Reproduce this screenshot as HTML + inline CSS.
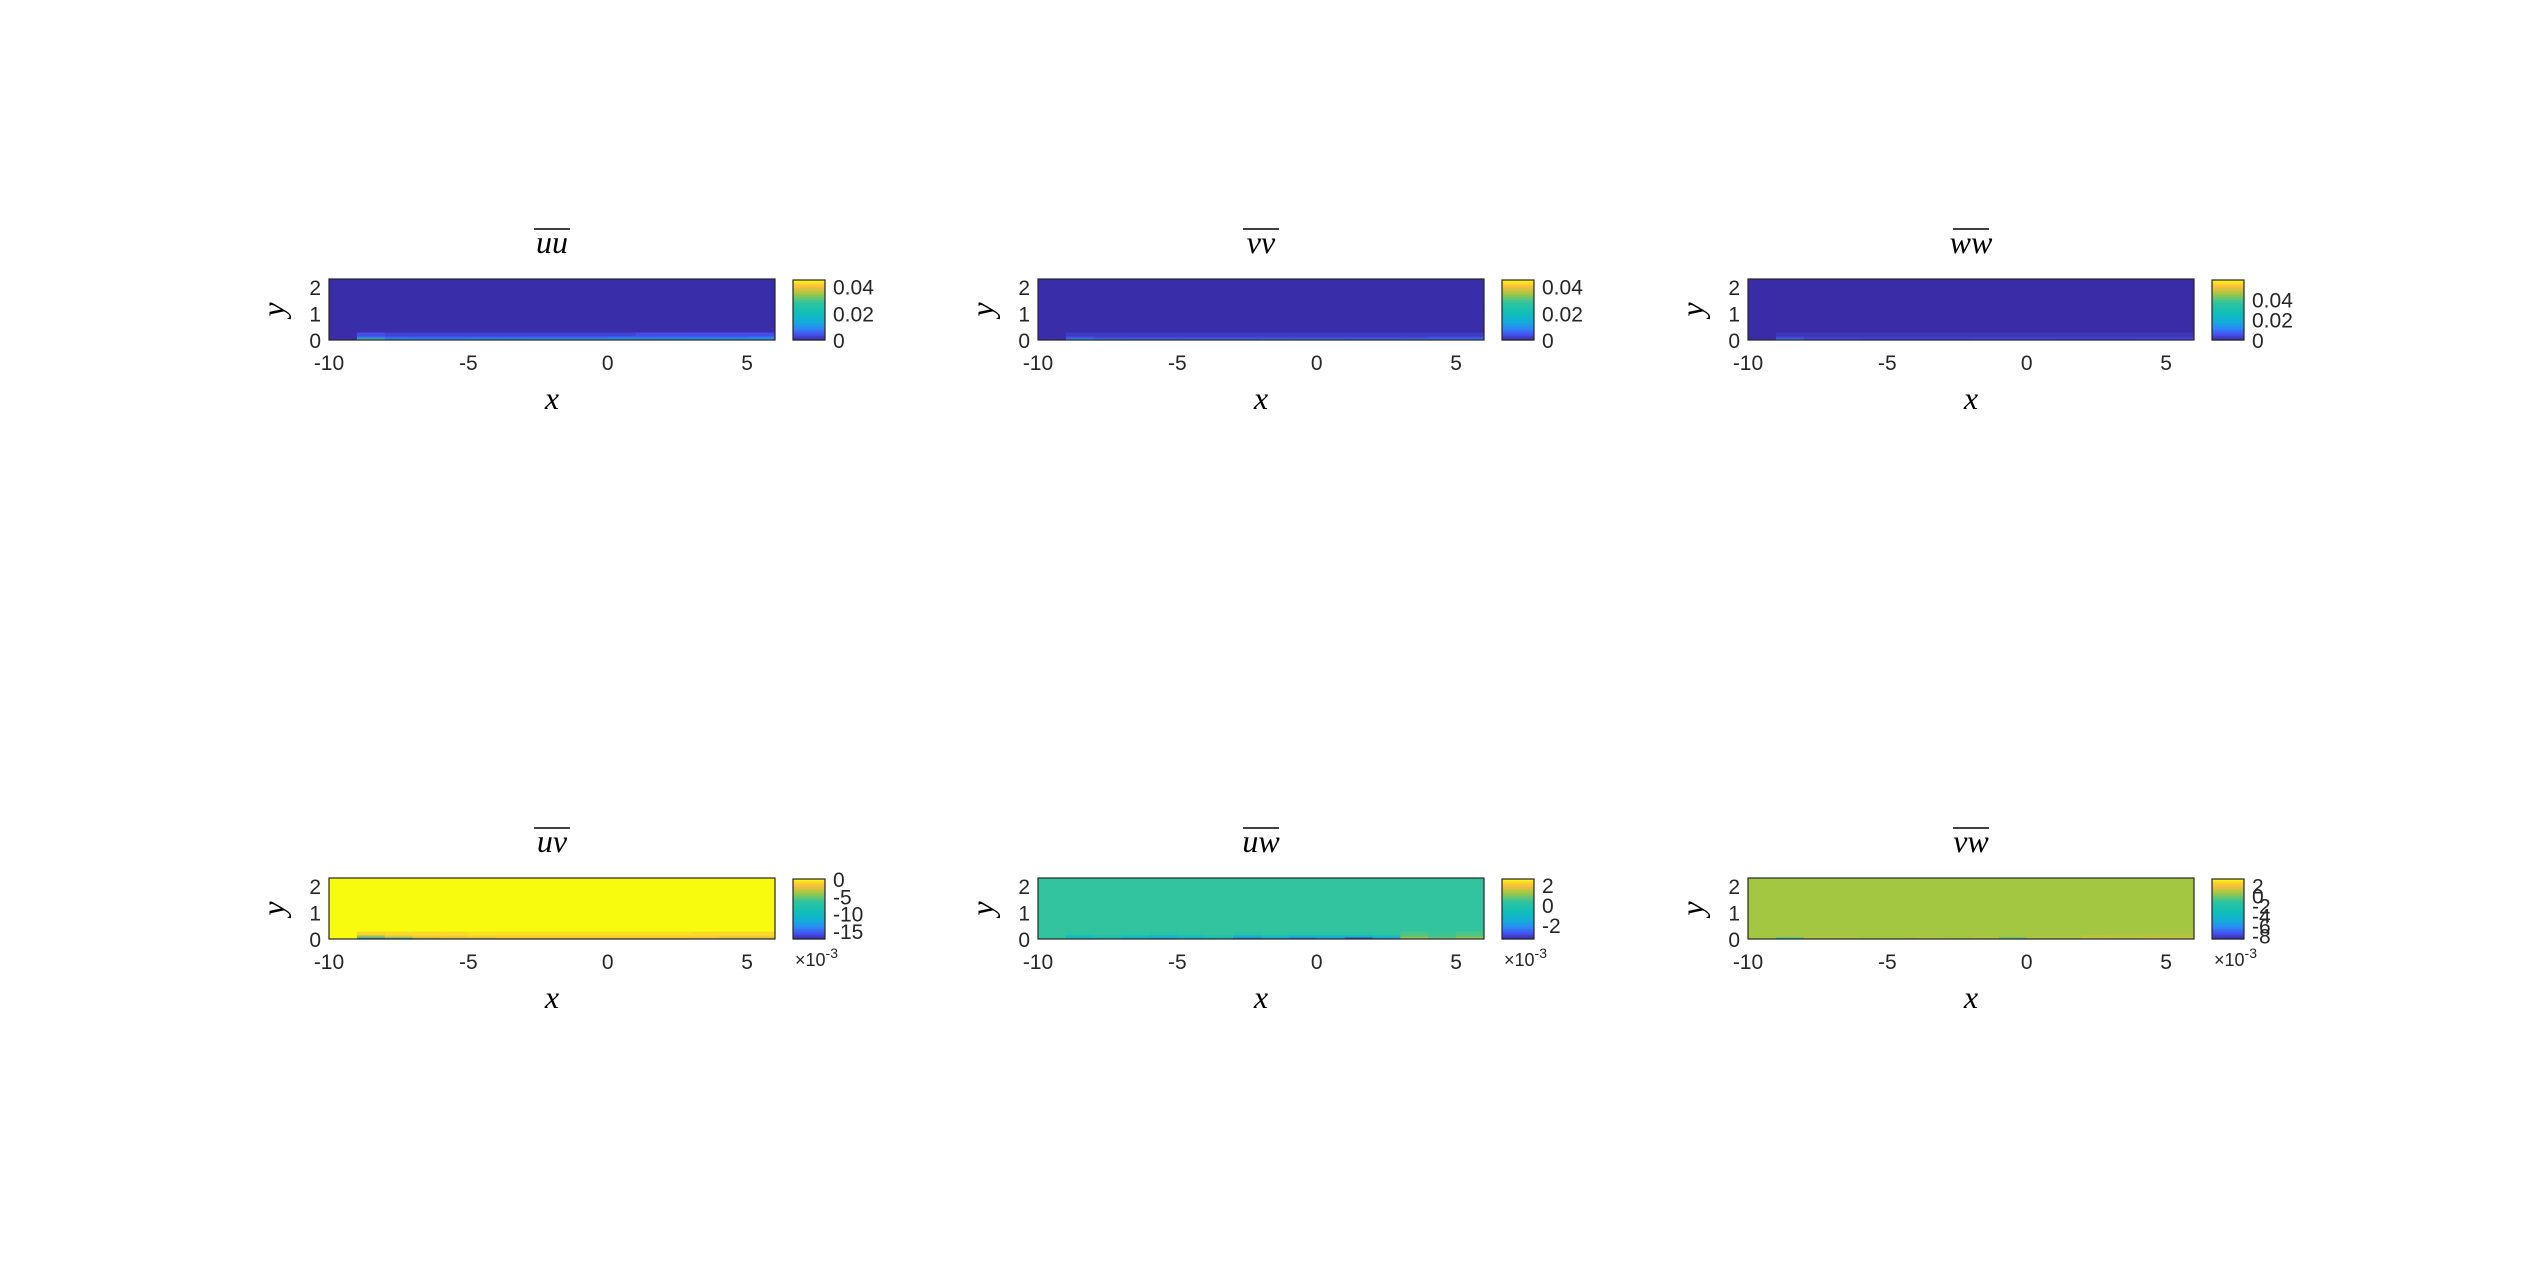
<!DOCTYPE html>
<html><head><meta charset="utf-8"><style>
html,body{margin:0;padding:0;background:#fff}
svg{display:block}
text{font-family:"Liberation Sans",sans-serif;fill:#262626}
.tk{font-size:21px}
.lab{font-family:"Liberation Serif",serif;font-style:italic;font-size:32px;fill:#000}
</style></head><body>
<svg id="fig" width="2526" height="1263" viewBox="0 0 2526 1263" xmlns="http://www.w3.org/2000/svg"></svg>
<script>
// ---- data ----
const titles = ["uu","vv","ww","uv","uw","vw"];
const xBins = [-9,-8,-7,-6,-5,-4,-3,-2,-1,0,1,2,3,4,5,6];
const yBands = [0,0.06,0.14,0.28];
const background = [0.0006,0.0006,0.0006,0,0.0004,0.0007];
const row0 = [
 [0.03,0.012,0.011,0.011,0.012,0.012,0.014,0.014,0.013,0.014,0.012,0.013,0.014,0.015,0.013,0.012],
 [0.012,0.008,0.007,0.007,0.007,0.007,0.007,0.008,0.008,0.008,0.007,0.007,0.008,0.008,0.008,0.008],
 [0.01,0.006,0.006,0.005,0.005,0.005,0.005,0.006,0.006,0.006,0.005,0.005,0.005,0.006,0.006,0.006],
 [-0.013,-0.007,-0.004,-0.003,-0.003,-0.002,-0.002,-0.002,-0.002,-0.002,-0.002,-0.002,-0.002,-0.003,-0.003,-0.002],
 [-0.001,-0.001,-0.0015,-0.002,-0.0015,-0.001,-0.0025,-0.002,-0.0025,-0.002,-0.003,-0.002,0.0015,0.001,0.0015,0.001],
 [-0.001,0.001,0.001,0.0008,0.0008,0.001,0.0008,0.001,-0.0005,0.001,0.001,0.0015,0.0012,0.0015,0.0014,0.0018]
];
const row1 = [
 [0.008,0.006,0.006,0.006,0.006,0.006,0.006,0.006,0.006,0.007,0.007,0.007,0.007,0.007,0.008,0.008],
 [0.004,0.003,0.003,0.003,0.003,0.003,0.003,0.003,0.003,0.003,0.003,0.003,0.003,0.004,0.004,0.004],
 [0.004,0.003,0.003,0.003,0.003,0.003,0.003,0.003,0.003,0.003,0.003,0.003,0.003,0.003,0.003,0.003],
 [-0.004,-0.002,-0.0015,-0.0015,-0.0012,-0.0012,-0.0012,-0.0012,-0.0012,-0.0012,-0.0012,-0.0012,-0.0012,-0.0015,-0.0015,-0.0015],
 [-0.0005,0,-0.0005,-0.0008,-0.0005,0,-0.001,-0.0005,-0.001,-0.001,-0.001,-0.0005,0.0008,0.0005,0.0008,0.0005],
 [0.0007,0.0008,0.0008,0.0007,0.0007,0.0008,0.0007,0.0008,0.0006,0.0008,0.0008,0.001,0.001,0.001,0.001,0.0012]
];
const row2 = [
 [0.004,0.003,0.003,0.003,0.003,0.003,0.003,0.003,0.003,0.003,0.004,0.004,0.004,0.004,0.004,0.005],
 [0.002,0.002,0.002,0.002,0.002,0.002,0.002,0.002,0.002,0.002,0.002,0.002,0.002,0.002,0.002,0.002],
 [0.002,0.002,0.002,0.002,0.002,0.002,0.002,0.002,0.002,0.002,0.002,0.002,0.002,0.002,0.002,0.002],
 [-0.001,-0.0008,-0.0008,-0.0008,-0.0006,-0.0006,-0.0006,-0.0006,-0.0006,-0.0006,-0.0006,-0.0006,-0.0008,-0.0008,-0.0008,-0.001],
 [0.0003,0.0004,0.0003,0.0002,0.0003,0.0004,0.0002,0.0003,0.0002,0.0002,0.0002,0.0003,0.0006,0.0005,0.0006,0.0005],
 [0.0007,0.0007,0.0007,0.0007,0.0007,0.0007,0.0007,0.0007,0.0007,0.0007,0.0007,0.0007,0.0008,0.0008,0.0008,0.0009]
];
const cmin = [0,0,0,-0.0173,-0.0034,-0.0087];
const cmax = [0.045,0.045,0.059,0,0.0026,0.0033];
const cbTicks = [[0,0.02,0.04],[0,0.02,0.04],[0,0.02,0.04],[0,-5,-10,-15],[2,0,-2],[2,0,-2,-4,-6,-8]];
const cbScale = [1,1,1,1e-3,1e-3,1e-3];
const xTicks = [-10,-5,0,5];
const yTicks = [0,1,2];

// ---- helpers ----
const NS="http://www.w3.org/2000/svg";
const svg=document.getElementById('fig');
function mk(tag,attrs,parent){const e=document.createElementNS(NS,tag);for(const k in attrs)e.setAttribute(k,attrs[k]);(parent||svg).appendChild(e);return e;}
const stops=[[0,[56,40,158]],[0.1,[71,80,240]],[0.2,[45,135,247]],[0.3,[20,170,220]],[0.45,[15,190,185]],[0.63,[46,196,160]],[0.78,[161,199,65]],[0.9,[252,190,60]],[0.95,[250,215,40]],[1,[249,251,14]]];
function parula(t){t=Math.max(0,Math.min(1,t));let i=0;while(i<stops.length-2&&t>stops[i+1][0])i++;const a=stops[i],b=stops[i+1];const r=(t-a[0])/(b[0]-a[0]);const c=a[1].map((v,k)=>Math.round(v+(b[1][k]-v)*r));return `rgb(${c[0]},${c[1]},${c[2]})`;}

const colX=[329,1038,1748], rowY=[279,878], W=446, H=61;
const XMIN=-10,XMAX=6,YMIN=0,YMAX=2.3;

titles.forEach((name,p)=>{
  const x0=colX[p%3], y0=rowY[Math.floor(p/3)];
  const g=mk('g',{});
  
  
  const sx=v=>x0+(v-XMIN)/(XMAX-XMIN)*W;
  const sy=v=>y0+H-(v-YMIN)/(YMAX-YMIN)*H;
  const col=v=>parula((v-cmin[p])/(cmax[p]-cmin[p]));
  const bg=mk('rect',{x:x0,y:y0,width:W,height:H,fill:col(background[p])},g);
  
  
  const rows=[row0[p],row1[p],row2[p]];
  rows.forEach((rv,ri)=>{
    rv.forEach((v,ci)=>{
      const xa=xBins[ci], xb=ci<xBins.length-1?xBins[ci+1]:XMAX;
      if(xa>=XMAX)return;
      const c=mk('rect',{x:sx(xa),y:sy(yBands[ri+1]),width:sx(xb)-sx(xa)+0.5,height:sy(yBands[ri])-sy(yBands[ri+1]),fill:col(v)},g);
      
      
    });
  });
  const fr=mk('rect',{x:x0,y:y0,width:W,height:H,fill:'none',stroke:'#262626','stroke-width':1.2},g);
  
  
  const t=mk('text',{x:x0+W/2,y:y0-26,'text-anchor':'middle',class:'lab'},g);
  t.textContent=name;
  
  
  const tw=name.length*15;
  mk('line',{x1:x0+W/2-tw/2-3,x2:x0+W/2+tw/2+3,y1:y0-50,y2:y0-50,stroke:'#000','stroke-width':1.6},g);
  xTicks.forEach(v=>{
    const tt=mk('text',{x:sx(v),y:y0+H+30,'text-anchor':'middle',class:'tk'},g);
    tt.textContent=v;
    
    
  });
  yTicks.forEach(v=>{
    const tt=mk('text',{x:x0-8,y:sy(v)+8,'text-anchor':'end',class:'tk'},g);
    tt.textContent=v;
    
    
  });
  const xl=mk('text',{x:x0+W/2,y:y0+H+69,'text-anchor':'middle',class:'lab'},g);
  xl.textContent='x';
  
  
  const yl=mk('text',{x:0,y:0,'text-anchor':'middle',class:'lab',transform:`translate(${x0-45},${y0+H/2}) rotate(-90)`},g);
  yl.textContent='y';
  
  
  const cx=x0+464, cw=32, cy=y0+1, ch=H-1;
  const cb=mk('g',{},g);
  
  
  const N=40;
  for(let i=0;i<N;i++){
    mk('rect',{x:cx,y:cy+ch-(i+1)*ch/N,width:cw,height:ch/N+0.6,fill:parula((i+0.5)/N)},cb);
  }
  mk('rect',{x:cx,y:cy,width:cw,height:ch,fill:'none',stroke:'#262626','stroke-width':1.2},cb);
  const cs=v=>cy+ch-(v*cbScale[p]-cmin[p])/(cmax[p]-cmin[p])*ch;
  cbTicks[p].forEach(v=>{
    const tt=mk('text',{x:cx+cw+8,y:cs(v)+8,class:'tk'},cb);
    tt.textContent=v;
    
    
  });
  if(cbScale[p]!==1){
    const ex=mk('text',{x:cx+2,y:y0+H+27,class:'tk',style:'font-size:18px'},cb);
    ex.innerHTML='×10<tspan dy="-8" font-size="14">-3</tspan>';
    
    
  }
});
</script>
</body></html>
